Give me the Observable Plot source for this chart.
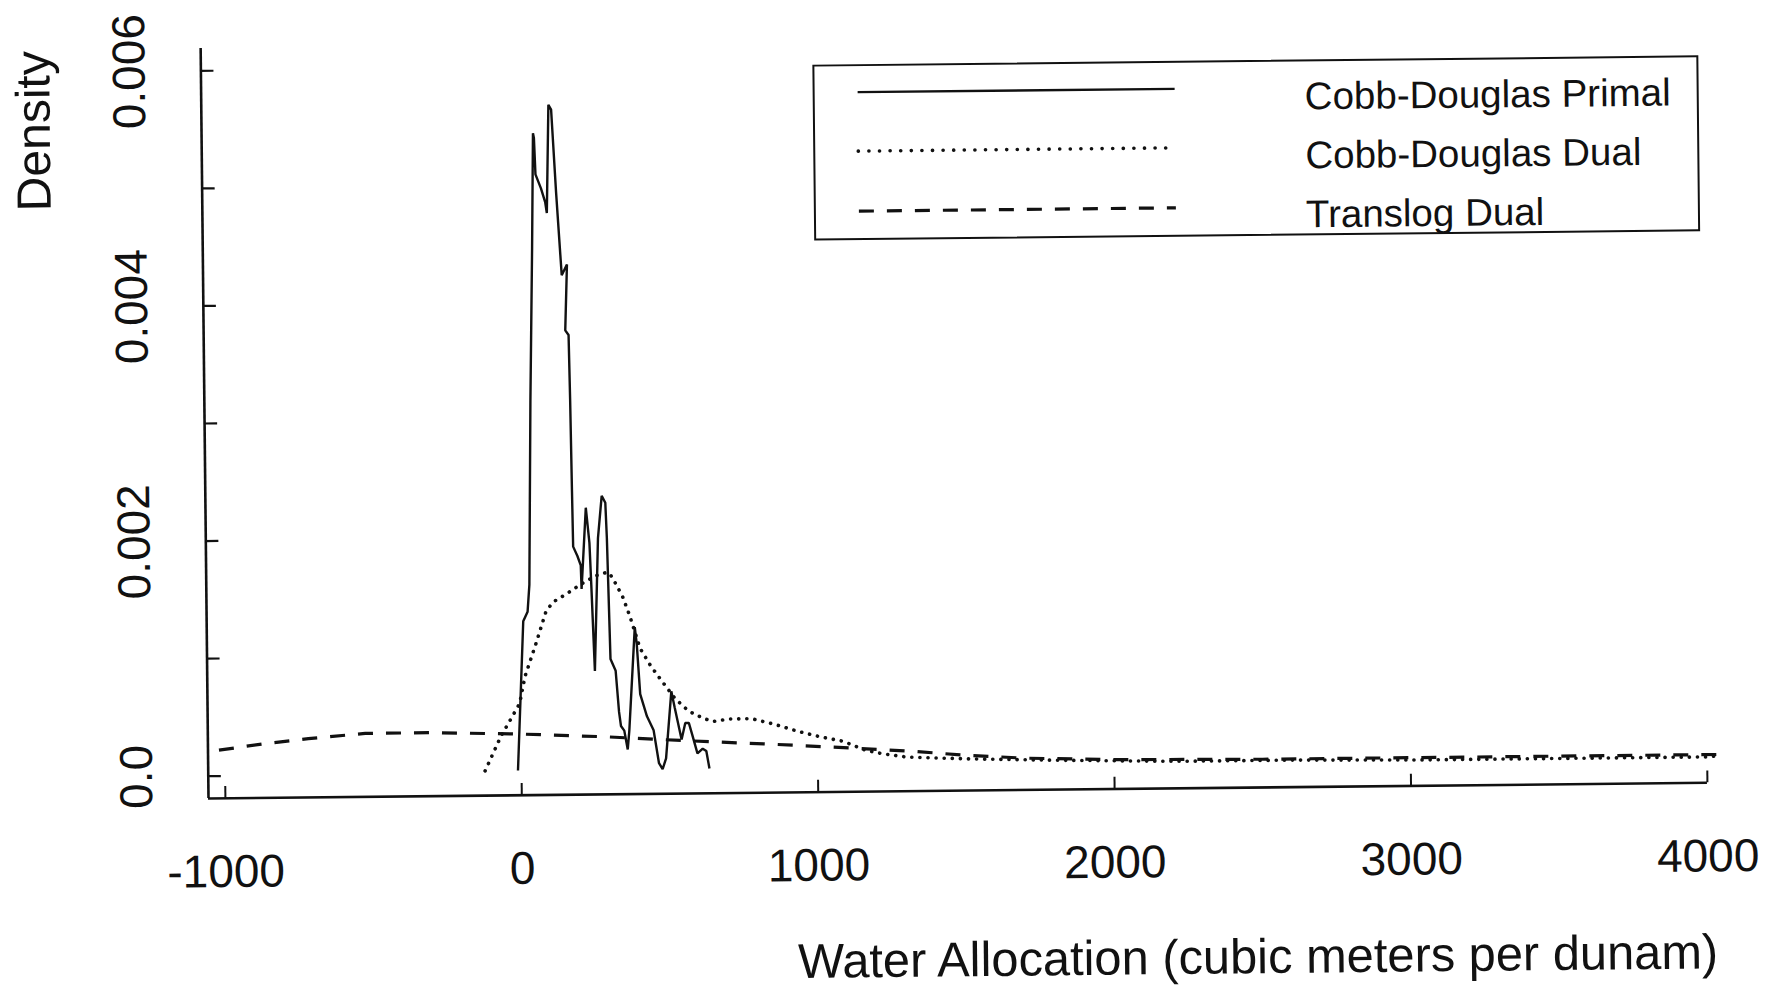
<!DOCTYPE html>
<html>
<head>
<meta charset="utf-8">
<script src="https://cdn.jsdelivr.net/npm/d3@7"></script>
<script src="https://cdn.jsdelivr.net/npm/@observablehq/plot@0.6"></script>
<style>
  html, body { margin: 0; padding: 0; background: #fff; overflow: hidden; }
  #wrap { position: relative; width: 1784px; height: 989px;
          transform: rotate(-0.6deg); transform-origin: 208px 798px; }
  #chart svg { overflow: visible; }
  #legend { position: absolute; left: 820px; top: 71px; width: 886px; height: 176px;
            box-sizing: border-box; border: 2.5px solid #111; background: #fff; }
  #legend svg { position: absolute; left: 0; top: 0; }
</style>
</head>
<body>
<div id="wrap"><div id="chart"></div><div id="legend"></div></div>
<script>
// ---- data ----
const seriesNames = ["Cobb-Douglas Primal", "Cobb-Douglas Dual", "Translog Dual"];

const primalX = [-12, 11, 26, 33, 43, 54, 61, 64, 68, 86, 100, 105, 114, 123, 137, 153, 171, 163, 174, 177, 180, 182, 196, 207, 209, 226, 237, 242, 251, 266, 280, 292, 296, 304, 321, 331, 337, 348, 359, 365, 387, 393, 403, 425, 447, 464, 476, 488, 508, 519, 541, 554, 566, 577, 594, 612, 624, 634];
const primalY = [0.00002, 0.00129, 0.00137, 0.0016, 0.00317, 0.00446, 0.00544, 0.0054, 0.00509, 0.00497, 0.00485, 0.00476, 0.00568, 0.00564, 0.00493, 0.00423, 0.00432, 0.00376, 0.00372, 0.00317, 0.00239, 0.00192, 0.00184, 0.00176, 0.00156, 0.00225, 0.00195, 0.00158, 0.00086, 0.00199, 0.00235, 0.00229, 0.00199, 0.00096, 0.00086, 0.00051, 0.00039, 0.00035, 0.00019, 0.00035, 0.00123, 0.00109, 0.00066, 0.00047, 0.00035, 0.00007, 0.00002, 0.00011, 0.00068, 0.00054, 0.00027, 0.00041, 0.00041, 0.00031, 0.00015, 0.00019, 0.00017, 0.00002];

const dualX = [-123, -69, -4, 15, 52, 88, 112, 159, 207, 257, 297, 312, 347, 370, 404, 439, 473, 520, 566, 613, 648, 702, 779, 856, 932, 1009, 1086, 1163, 1220, 1300, 1500, 1800, 2200, 2600, 3000, 3500, 4000, 4040];
const dualY = [0.00002, 0.00031, 0.00059, 0.00082, 0.00109, 0.00137, 0.00145, 0.00152, 0.0016, 0.00167, 0.0017, 0.00166, 0.00149, 0.00133, 0.00105, 0.0009, 0.00078, 0.00062, 0.00051, 0.00045, 0.00042, 0.00044, 0.00044, 0.00039, 0.00033, 0.00028, 0.00024, 0.00016, 0.00013, 0.0001, 0.00008, 0.00006, 0.00004, 0.00004, 0.00003, 0.00003, 0.00003, 0.00004];

const translogX = [-1020, -871, -718, -526, -295, 0, 280, 549, 856, 1125, 1316, 1500, 1700, 2000, 2500, 3000, 3500, 4048];
const translogY = [0.00022, 0.00027, 0.00031, 0.00035, 0.00035, 0.00033, 0.0003, 0.00026, 0.00022, 0.00018, 0.00015, 0.00011, 0.00008, 0.00006, 0.00005, 0.00005, 0.00005, 0.00005];

const xTicks = [-1000, 0, 1000, 2000, 3000, 4000];
const xTickLabels = ["-1000", "0", "1000", "2000", "3000", "4000"];
const yTicks = [0, 0.001, 0.002, 0.003, 0.004, 0.005, 0.006];
const yLabelTicks = [0, 0.002, 0.004, 0.006];
const yTickLabels = ["0.0", "0.002", "0.004", "0.006"];
const xTitle = "Water Allocation (cubic meters per dunam)";
const yTitle = "Density";

// ---- build ----
const xMin = -1057, xMax = 4000, yMin = -0.00019, yMax = 0.00619;
const font = "'Liberation Sans', Arial, Helvetica, sans-serif";
const ink = "#111";
const toRows = (xs, ys) => xs.map((x, i) => ({x, y: ys[i]}));
const primal = toRows(primalX, primalY);
const dual = toRows(dualX, dualY);
const translog = toRows(translogX, translogY);
const styles = [
  {strokeWidth: 2.4, strokeDasharray: null, strokeLinecap: "butt"},
  {strokeWidth: 3.6, strokeDasharray: "0.1,8", strokeLinecap: "round"},
  {strokeWidth: 3.2, strokeDasharray: "15,13", strokeLinecap: "butt"}
];

const chart = Plot.plot({
  width: 1784, height: 989,
  marginLeft: 208, marginRight: 77, marginTop: 48, marginBottom: 191,
  style: {fontFamily: font, background: "transparent", color: ink, overflow: "visible"},
  x: {domain: [xMin, xMax], axis: null},
  y: {domain: [yMin, yMax], axis: null},
  marks: [
    Plot.ruleX([xMin], {y1: yMin, y2: yMax, stroke: ink, strokeWidth: 2.6}),
    Plot.ruleY([yMin], {x1: xMin, x2: xMax, stroke: ink, strokeWidth: 2.6}),
    Plot.ruleX(xTicks, {y1: yMin, y2: yMin + 0.0001, stroke: ink, strokeWidth: 2}),
    Plot.ruleY(yTicks, {x1: xMin, x2: xMin + 44, stroke: ink, strokeWidth: 2.2}),
    Plot.line(translog, {x: "x", y: "y", stroke: ink, ...styles[2], clip: false}),
    Plot.line(dual, {x: "x", y: "y", stroke: ink, ...styles[1], clip: false}),
    Plot.line(primal, {x: "x", y: "y", stroke: ink, ...styles[0], strokeLinejoin: "miter", clip: false}),
    Plot.text(xTicks, {x: d => d, frameAnchor: "bottom", dy: 74, text: (d, i) => xTickLabels[i],
      fontSize: 46, fill: ink, textAnchor: "middle", lineAnchor: "middle", fontFamily: font}),
    Plot.text(yLabelTicks, {y: d => d, frameAnchor: "left", dx: -71, rotate: -90, text: (d, i) => yTickLabels[i],
      fontSize: 46, fill: ink, textAnchor: "middle", lineAnchor: "middle", fontFamily: font}),
    Plot.text([xTitle], {frameAnchor: "bottom-right", dx: 9, dy: 170, text: d => d,
      fontSize: 48.8, fill: ink, textAnchor: "end", lineAnchor: "middle", fontFamily: font}),
    Plot.text([yTitle], {frameAnchor: "top-left", dx: -167, dy: 81, rotate: -90, text: d => d,
      fontSize: 48, fill: ink, textAnchor: "middle", lineAnchor: "middle", fontFamily: font})
  ]
});
document.getElementById("chart").appendChild(chart);

// ---- legend (HTML overlay) ----
const lg = d3.select("#legend").append("svg").attr("width", 886).attr("height", 176);
const lineY = [26, 85, 145], textY = [34, 93, 152];
seriesNames.forEach((name, i) => {
  lg.append("line").attr("x1", 43).attr("x2", 360).attr("y1", lineY[i]).attr("y2", lineY[i])
    .attr("stroke", ink).attr("stroke-width", styles[i].strokeWidth)
    .attr("stroke-dasharray", i === 1 ? "0.1,10.5" : styles[i].strokeDasharray)
    .attr("stroke-linecap", styles[i].strokeLinecap);
  lg.append("text").attr("x", 490).attr("y", textY[i]).attr("dy", "0.36em")
    .attr("font-family", font).attr("font-size", 38.5).attr("fill", ink).text(name);
});
</script>
</body>
</html>
